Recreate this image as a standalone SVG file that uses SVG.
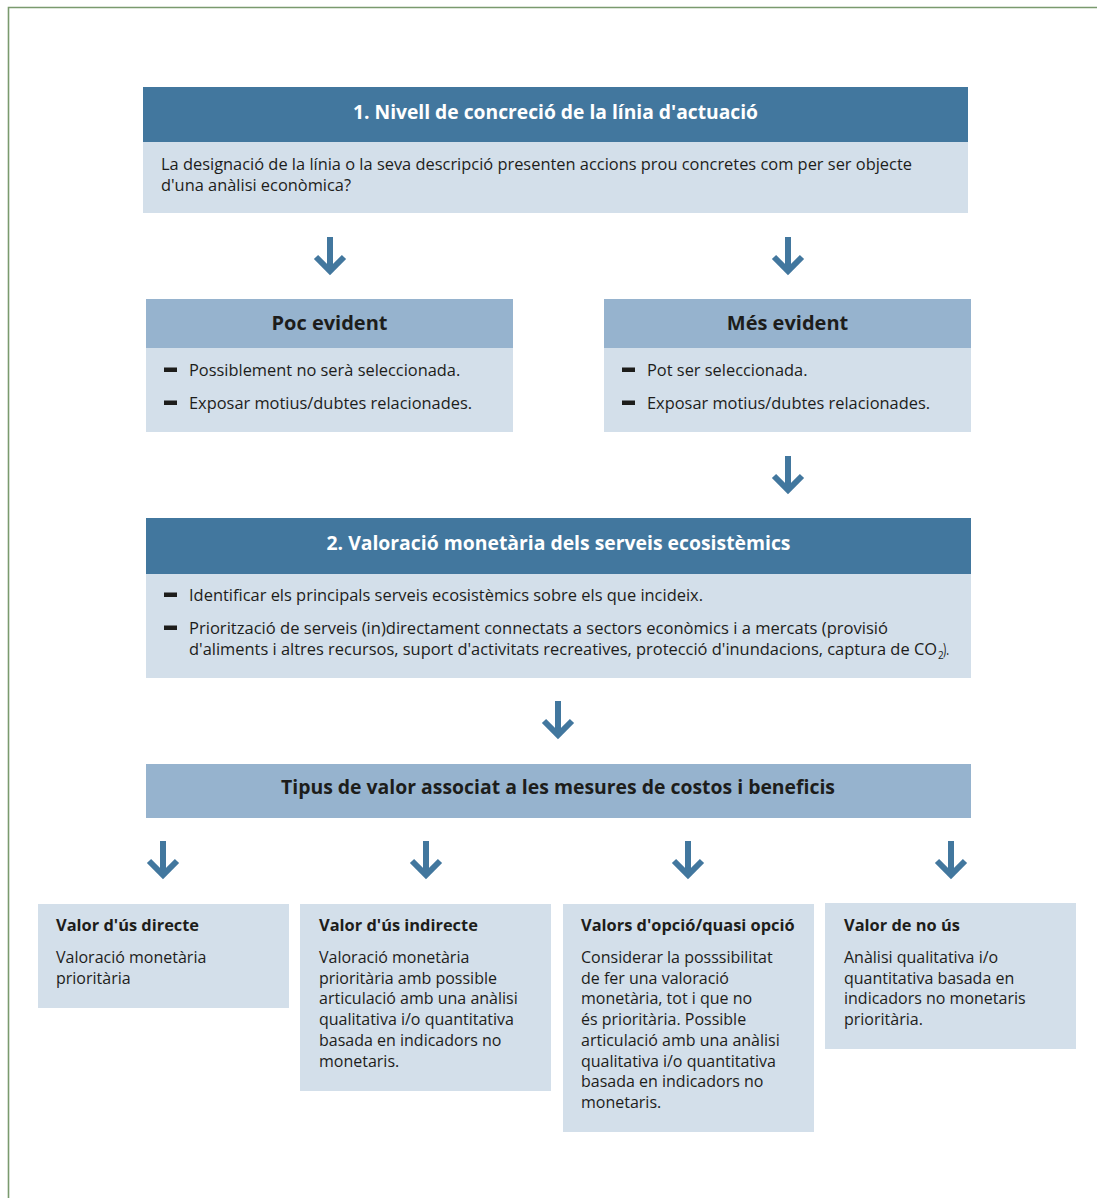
<svg xmlns="http://www.w3.org/2000/svg" width="1097" height="1198" viewBox="0 0 1097 1198">
<style>
.dk{fill:#42779e}
.lt{fill:#96b3ce}
.bd{fill:#d3dfea}
text{font-family:'Open Sans','Noto Sans',sans-serif;fill:#1d1d1b;font-size:16.4px}
.hw{font-weight:700;fill:#fff;font-size:20px;text-anchor:middle}
.hb{font-weight:700;font-size:20px;text-anchor:middle}
.tb{font-weight:700}
.sm{font-size:16px}
.dash{fill:#1d1d1b}
.arr{fill:none;stroke:#42779e;stroke-width:6;stroke-linejoin:miter;stroke-miterlimit:10}
</style>
<defs>
<path id="arrow" class="arr" d="M0,0 V34 M-14,20 L0,34 L14,20"/>
<rect id="dash" class="dash" width="13" height="4.5"/>
</defs>
<rect width="1097" height="1198" fill="#fff"/>
<path d="M8.5,1198 V7.5 H1097" fill="none" stroke="#7a9a6e" stroke-width="1.6"/>

<g id="node-nivell">
<rect class="dk" x="143" y="87" width="825" height="55"/>
<rect class="bd" x="143" y="142" width="825" height="71"/>
<text class="hw" x="555.5" y="119" textLength="405" lengthAdjust="spacingAndGlyphs">1. Nivell de concreció de la línia d'actuació</text>
<text x="161" y="170" textLength="751" lengthAdjust="spacingAndGlyphs">La designació de la línia o la seva descripció presenten accions prou concretes com per ser objecte</text>
<text x="161" y="191">d'una anàlisi econòmica?</text>
</g>

<g id="node-poc">
<rect class="lt" x="146" y="299" width="367" height="49"/>
<rect class="bd" x="146" y="348" width="367" height="84"/>
<text class="hb" x="329.5" y="330">Poc evident</text>
<use href="#dash" x="164" y="367.5"/>
<text x="189" y="376">Possiblement no serà seleccionada.</text>
<use href="#dash" x="164" y="400.5"/>
<text x="189" y="409">Exposar motius/dubtes relacionades.</text>
</g>

<g id="node-mes">
<rect class="lt" x="604" y="299" width="367" height="49"/>
<rect class="bd" x="604" y="348" width="367" height="84"/>
<text class="hb" x="787.5" y="330">Més evident</text>
<use href="#dash" x="622" y="367.5"/>
<text x="647" y="376">Pot ser seleccionada.</text>
<use href="#dash" x="622" y="400.5"/>
<text x="647" y="409">Exposar motius/dubtes relacionades.</text>
</g>

<g id="node-valoracio">
<rect class="dk" x="146" y="518" width="825" height="56"/>
<rect class="bd" x="146" y="574" width="825" height="104"/>
<text class="hw" x="558.5" y="550" textLength="464" lengthAdjust="spacingAndGlyphs">2. Valoració monetària dels serveis ecosistèmics</text>
<use href="#dash" x="164" y="592.5"/>
<text x="189" y="601" textLength="514" lengthAdjust="spacingAndGlyphs">Identificar els principals serveis ecosistèmics sobre els que incideix.</text>
<use href="#dash" x="164" y="625.5"/>
<text x="189" y="634" textLength="699" lengthAdjust="spacingAndGlyphs">Priorització de serveis (in)directament connectats a sectors econòmics i a mercats (provisió</text>
<text x="189" y="655" textLength="748" lengthAdjust="spacingAndGlyphs">d'aliments i altres recursos, suport d'activitats recreatives, protecció d'inundacions, captura de CO</text>
<text x="938" y="659" style="font-size:10px">2</text>
<text x="943" y="655" textLength="6" lengthAdjust="spacingAndGlyphs">).</text>
</g>

<g id="node-tipus">
<rect class="lt" x="146" y="764" width="825" height="54"/>
<text class="hb" x="558" y="794" textLength="554" lengthAdjust="spacingAndGlyphs">Tipus de valor associat a les mesures de costos i beneficis</text>
</g>

<g id="node-directe">
<rect class="bd" x="38" y="904" width="251" height="104"/>
<text class="tb" x="56" y="931">Valor d'ús directe</text>
<text class="sm" x="56" y="963">Valoració monetària</text>
<text class="sm" x="56" y="983.7">prioritària</text>
</g>

<g id="node-indirecte">
<rect class="bd" x="300" y="904" width="251" height="187"/>
<text class="tb" x="319" y="931">Valor d'ús indirecte</text>
<text class="sm" x="319" y="963">Valoració monetària</text>
<text class="sm" x="319" y="983.7">prioritària amb possible</text>
<text class="sm" x="319" y="1004.4">articulació amb una anàlisi</text>
<text class="sm" x="319" y="1025.1">qualitativa i/o quantitativa</text>
<text class="sm" x="319" y="1045.8">basada en indicadors no</text>
<text class="sm" x="319" y="1066.5">monetaris.</text>
</g>

<g id="node-opcio">
<rect class="bd" x="563" y="904" width="251" height="228"/>
<text class="tb" x="581" y="931">Valors d'opció/quasi opció</text>
<text class="sm" x="581" y="963">Considerar la posssibilitat</text>
<text class="sm" x="581" y="983.7">de fer una valoració</text>
<text class="sm" x="581" y="1004.4">monetària, tot i que no</text>
<text class="sm" x="581" y="1025.1">és prioritària. Possible</text>
<text class="sm" x="581" y="1045.8">articulació amb una anàlisi</text>
<text class="sm" x="581" y="1066.5">qualitativa i/o quantitativa</text>
<text class="sm" x="581" y="1087.2">basada en indicadors no</text>
<text class="sm" x="581" y="1107.9">monetaris.</text>
</g>

<g id="node-nous">
<rect class="bd" x="825" y="903" width="251" height="146"/>
<text class="tb" x="844" y="931">Valor de no ús</text>
<text class="sm" x="844" y="963">Anàlisi qualitativa i/o</text>
<text class="sm" x="844" y="983.7">quantitativa basada en</text>
<text class="sm" x="844" y="1004.4">indicadors no monetaris</text>
<text class="sm" x="844" y="1025.1">prioritària.</text>
</g>

<g id="connectors">
<use href="#arrow" x="330" y="237"/>
<use href="#arrow" x="788" y="237"/>
<use href="#arrow" x="788" y="456"/>
<use href="#arrow" x="558" y="701"/>
<use href="#arrow" x="163" y="841"/>
<use href="#arrow" x="426" y="841"/>
<use href="#arrow" x="688" y="841"/>
<use href="#arrow" x="951" y="841"/>
</g>
</svg>
